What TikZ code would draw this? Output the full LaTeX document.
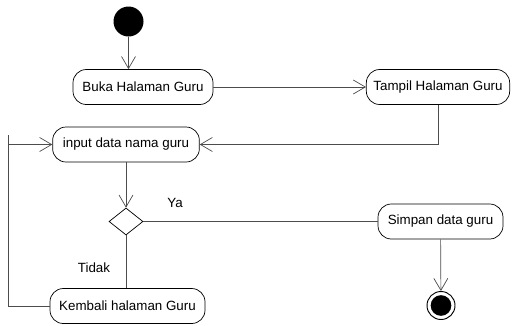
\documentclass[tikz,border=0pt]{standalone}
\usepackage{fontspec}
\setmainfont{Liberation Sans}
\usetikzlibrary{shapes.geometric, arrows.meta, positioning}

\begin{document}
\begin{tikzpicture}[x=0.03cm, y=-0.03cm,
  act/.style={draw, semithick, rounded corners=0.4cm, minimum height=1.05cm, inner sep=0pt, font=\fontsize{11.4}{13}\selectfont},
  lbl/.style={font=\fontsize{11.4}{13}\selectfont},
  flow/.style={draw=black!70, semithick, -{Straight Barb[length=3.6mm, width=4.2mm]}},
  line/.style={draw=black!70, semithick}]
  \useasboundingbox (0,0) rectangle (512,325);
  \node[circle, fill, minimum size=0.9cm, inner sep=0pt] (start) at (128.5,21.5) {};
  \node[act, minimum width=4.2cm] (buka) at (143,87) {Buka Halaman Guru};
  \node[act, minimum width=4.3cm] (tampil) at (438,87) {Tampil Halaman Guru};
  \node[act, minimum width=4.4cm] (input) at (126,144.5) {input data nama guru};
  \node[diamond, draw, semithick, minimum width=1.02cm, minimum height=0.81cm, inner sep=0pt] (cek) at (126,221.5) {};
  \node[act, minimum width=3.75cm] (simpan) at (440.5,221.5) {Simpan data guru};
  \node[act, minimum width=4.65cm] (kembali) at (127.5,306) {Kembali halaman Guru};
  \node[circle, draw, thick, minimum size=0.84cm, inner sep=0pt] (end) at (441,305.5) {};
  \node[circle, fill, minimum size=0.62cm, inner sep=0pt] (endin) at (end) {};
  \node[lbl] (ya) at (175,203) {Ya};
  \node[lbl] (tidak) at (94,268) {Tidak};
  \coordinate (loopb) at (8,307);
  \coordinate (loopt) at (8,144.5);
  \coordinate (looptop) at (8,135);
  \draw[flow] (start) -- (start |- buka.north);
  \draw[flow] (buka) -- (tampil);
  \draw[flow] (tampil.south) |- (input.east);
  \draw[flow] (input) -- (cek);
  \draw[line] (cek) -- (simpan);
  \draw[line] (cek) -- (cek |- kembali.north);
  \draw[flow] (simpan) -- (end);
  \draw[line] (kembali.west) -- (kembali.west -| loopb) -- (looptop);
  \draw[flow] (loopt) -- (input.west);
\end{tikzpicture}
\end{document}
